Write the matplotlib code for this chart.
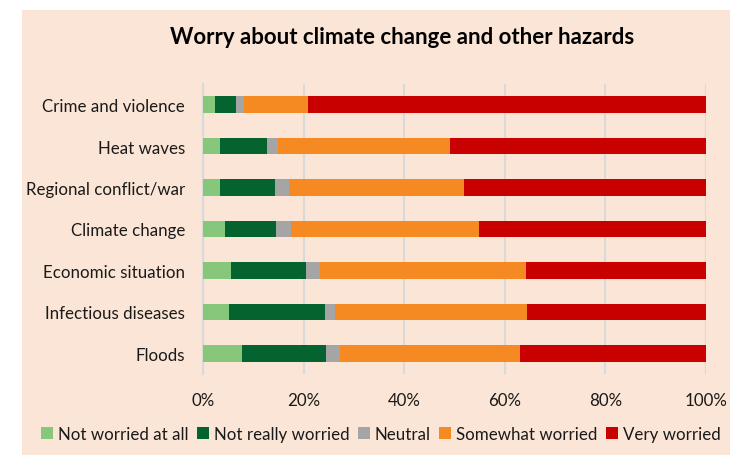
import numpy as np
import matplotlib.pyplot as plt
from matplotlib.patches import Rectangle

plt.rcParams['font.family'] = ['Lato', 'DejaVu Sans']

hazards = ['Crime and violence', 'Heat waves', 'Regional conflict/war', 'Climate change',
           'Economic situation', 'Infectious diseases', 'Floods']
levels = ['Not worried at all', 'Not really worried', 'Neutral', 'Somewhat worried', 'Very worried']

# shares in %, one list per answer level (same order as hazards)
not_at_all = [2.4, 3.3, 3.4, 4.4, 5.6, 5.1, 7.8]
not_really = [4.1, 9.4, 11.0, 10.2, 14.9, 19.1, 16.6]
neutral = [1.7, 2.2, 2.7, 2.9, 2.8, 2.1, 2.8]
somewhat = [12.7, 34.2, 34.7, 37.4, 40.9, 38.1, 35.8]
very = [79.1, 50.9, 48.2, 45.1, 35.8, 35.6, 37.0]

colors = ['#86C77C', '#05632F', '#A5A5A5', '#F58A22', '#C90000']
bg = '#FBE5D6'

fig = plt.figure(figsize=(7.3, 4.56), dpi=100)
fig.patches.append(Rectangle((22 / 730, 0), 1, 1 - 11 / 456, transform=fig.transFigure,
                             facecolor=bg, edgecolor='none', zorder=-10))

ax = fig.add_axes([203 / 730, 1 - 375 / 456, (706 - 203) / 730, (375 - 85) / 456])
ax.set_facecolor(bg)

y = np.arange(len(hazards))
left = np.zeros(len(hazards))
for vals, lab, col in zip([not_at_all, not_really, neutral, somewhat, very], levels, colors):
    vals = np.array(vals)
    ax.barh(y, vals, left=left, height=0.4, color=col, label=lab, zorder=3)
    left += vals

ax.set_ylim(len(hazards) - 0.5, -0.5)
ax.set_yticks(y)
ax.set_yticklabels(hazards, fontsize=12.2, color='#1a1a1a')
ax.set_xlim(0, 100)
ax.set_xticks(np.arange(0, 101, 20))
ax.set_xticklabels([f'{v}%' for v in range(0, 101, 20)], fontsize=12.2, color='#1a1a1a')
ax.tick_params(length=0)
ax.tick_params(axis='y', pad=13)
ax.tick_params(axis='x', pad=13)
ax.grid(axis='x', color='#D9D9D9', linewidth=1.5, zorder=0)
for s in ['top', 'right', 'bottom']:
    ax.spines[s].set_visible(False)
ax.spines['left'].set_color('#D9D9D9')
ax.spines['left'].set_linewidth(1.5)

fig.text(402 / 730, 1 - 37 / 456, 'Worry about climate change and other hazards',
         ha='center', va='center', fontsize=16, fontweight='bold', color='black')

fig.legend(loc='center', bbox_to_anchor=(381 / 730, 1 - 435 / 456), ncol=5, frameon=False,
           fontsize=12.2, handlelength=0.7, handleheight=0.7, handletextpad=0.3,
           columnspacing=0.5, labelcolor='#1a1a1a')

fig.savefig('out.png', dpi=100, facecolor='white')
